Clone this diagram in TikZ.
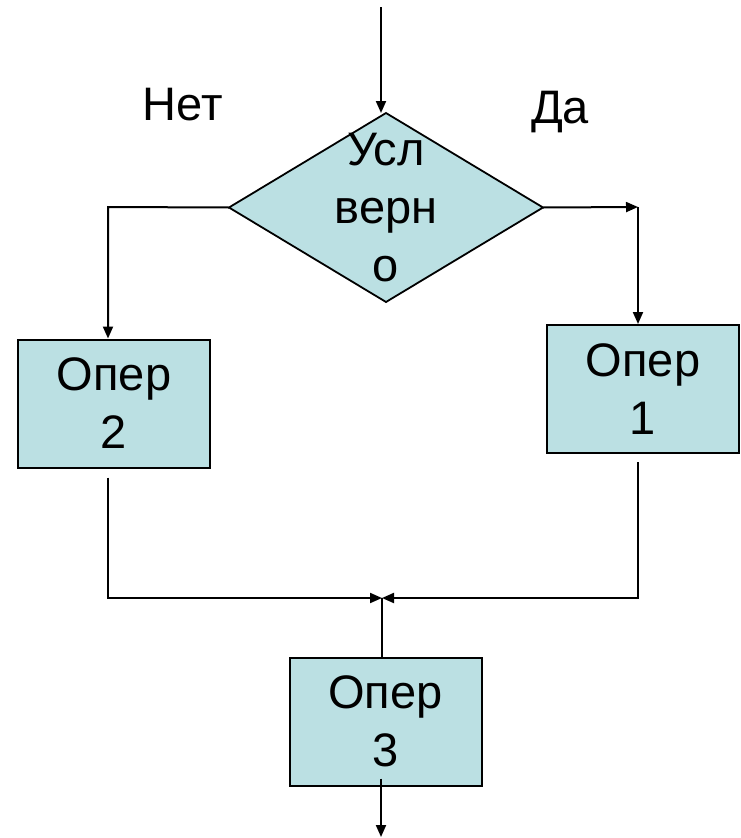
\documentclass[tikz,border=0pt]{standalone}
\usepackage{fontspec}
\setmainfont{Liberation Sans}
\usepackage{tikz}
\usetikzlibrary{shapes.geometric}
\usetikzlibrary{arrows.meta}
\usetikzlibrary{positioning}
\definecolor{boxfill}{RGB}{187,224,227}
\tikzstyle{big_text}=[font=\fontsize{47}{58}\selectfont, align=center]
\tikzstyle{op_box}=[rectangle, draw=black, fill=boxfill, line width=2pt,
    minimum width=192pt, minimum height=128pt, big_text]
\tikzstyle{cond_diamond}=[diamond, draw=black, fill=boxfill, line width=1.8pt,
    minimum width=314pt, minimum height=189pt, inner sep=0pt, outer sep=0pt]
\tikzstyle{flow}=[line width=2pt, -{Triangle[length=12pt,width=10pt]}]
\tikzstyle{plain_line}=[line width=2pt]
\begin{document}
\begin{tikzpicture}[x=1pt,y=-1pt]
          \useasboundingbox (0,0) rectangle (740,838);
          \node[cond_diamond] (cond) at (386,207.5){};
          \node[big_text] (cond_txt) at (386,208){Усл\\верн\\о};
          \node[op_box] (op2) at (114,403.5){Опер\\2};
          \node[op_box] (op1) at (643,389){Опер\\1};
          \node[op_box] (op3) at (385.5,721.5){Опер\\3};
          \node[big_text, anchor=base] (no_lbl) at (183,120){Нет};
          \node[big_text, anchor=base] (yes_lbl) at (560,123){Да};
          \coordinate (c_in) at (381,7);
          \coordinate (c_left) at (108,207);
          \coordinate (c_right) at (638,207);
          \coordinate (c_join) at (382,598);
          \coordinate (c_out) at (381,837);
          \draw[flow](c_in) -- (c_in |- cond.north);
          \draw[flow](cond.west) -- (c_left) -- (c_left |- op2.north);
          \draw[flow](cond.east) -- (c_right);
          \draw[flow](c_right) -- (c_right |- op1.north);
          \draw[flow, shorten <=9pt](c_left |- op2.south) -- (c_left |- c_join) -- (c_join);
          \draw[flow, shorten <=8pt](c_right |- op1.south) -- (c_right |- c_join) -- (c_join);
          \draw[plain_line](c_join) -- (c_join |- op3.north);
          \draw[flow, shorten <=-8pt](c_out |- op3.south) -- (c_out);
        \end{tikzpicture}
\end{document}
